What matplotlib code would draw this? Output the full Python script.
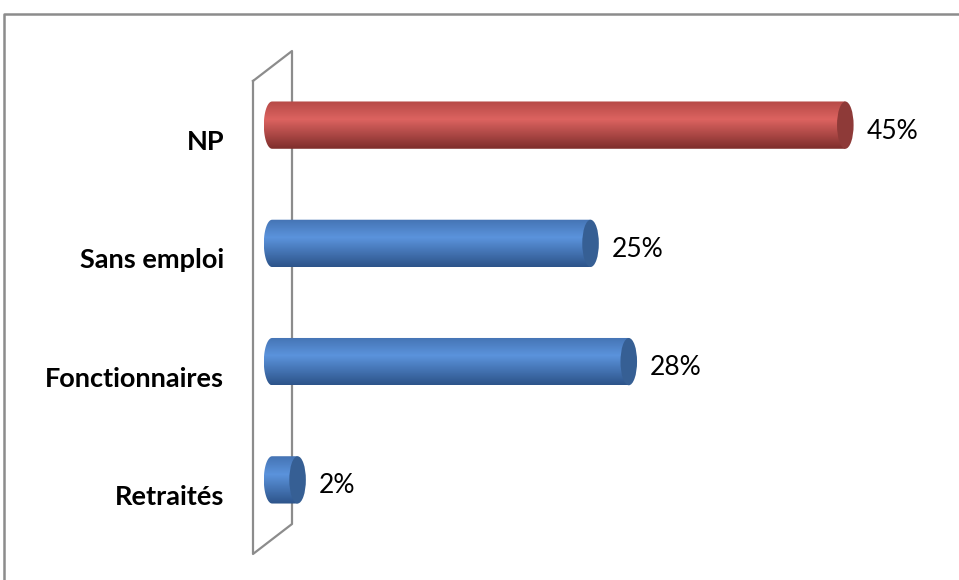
import matplotlib
matplotlib.use("Agg")
import matplotlib.pyplot as plt
import numpy as np
from matplotlib.colors import LinearSegmentedColormap
from matplotlib.patches import Ellipse
from matplotlib.path import Path
from matplotlib.lines import Line2D

plt.rcParams['font.family'] = ['Lato', 'DejaVu Sans']

# data (bottom to top)
categories = ['Retraités', 'Fonctionnaires', 'Sans emploi', 'NP']
values = [2, 28, 25, 45]
labels = ['2%', '28%', '25%', '45%']
highlight = [False, False, False, True]

# shading: top, highlight, bottom, cap
blue = ['#4574b4', '#5b93dc', '#2d548a', '#365f94']
red = ['#b64a47', '#dc6360', '#7e2e2c', '#8e3a38']

W, H = 959, 580
fig = plt.figure(figsize=(W / 100, H / 100), dpi=100)

def px(x, y):
    return x / W, 1 - y / H

# outer frame (cut on right / bottom like the original)
fig.add_artist(Line2D([px(4, 0)[0], px(4, 0)[0], 1.0], [0.0, px(0, 14)[1], px(0, 14)[1]],
                      transform=fig.transFigure, color='#8c8c8c', lw=1.8, zorder=-2))

# 3D wall behind the bars
wx = [253, 292, 292, 253, 253]
wy = [81, 51, 524, 554, 81]
fx = [px(a, b)[0] for a, b in zip(wx, wy)]
fy = [px(a, b)[1] for a, b in zip(wx, wy)]
fig.add_artist(Line2D(fx, fy, transform=fig.transFigure, color='#8c8c8c', lw=1.6, zorder=-1))

xmin, xmax = -1.5, 50
ax = fig.add_axes([253 / W, (580 - 539) / H, 656 / W, 473 / H])
ax.axis('off')

bar_h = 0.40
cap_w = 1.3
a, b = cap_w / 2, bar_h / 2

for i, (v, hl) in enumerate(zip(values, highlight)):
    c = red if hl else blue
    cmap = LinearSegmentedColormap.from_list(
        'cyl', [(0, c[0]), (0.38, c[1]), (1, c[2])])
    grad = cmap(np.linspace(0, 1, 64))[:, None, :3]
    y = i
    im = ax.imshow(grad, extent=[-a, v, y - b, y + b], aspect='auto',
                   origin='upper', interpolation='bilinear', zorder=2)
    th = np.linspace(np.pi / 2, 3 * np.pi / 2, 40)
    verts = [(v, y + b)] + list(zip(a * np.cos(th), y + b * np.sin(th))) + [(v, y - b), (v, y + b)]
    codes = [Path.MOVETO] + [Path.LINETO] * (len(verts) - 2) + [Path.CLOSEPOLY]
    im.set_clip_path(Path(verts, codes), transform=ax.transData)
    ax.add_patch(Ellipse((v, y), cap_w, bar_h, facecolor=c[3], edgecolor='none', zorder=3))

for i, (v, lab) in enumerate(zip(values, labels)):
    ax.annotate(lab, xy=(v, i), xytext=(21, -6), textcoords='offset pixels',
                ha='left', va='center', fontsize=19, color='black')

for i, cat in enumerate(categories):
    ax.annotate(cat, xy=(0, i), xytext=(-48, -17),
                textcoords='offset pixels', ha='right', va='center',
                fontsize=19.5, fontweight='bold', color='black')

ax.set_xlim(xmin, xmax)
ax.set_ylim(-0.5, 3.5)

fig.savefig('out.png', dpi=100)
